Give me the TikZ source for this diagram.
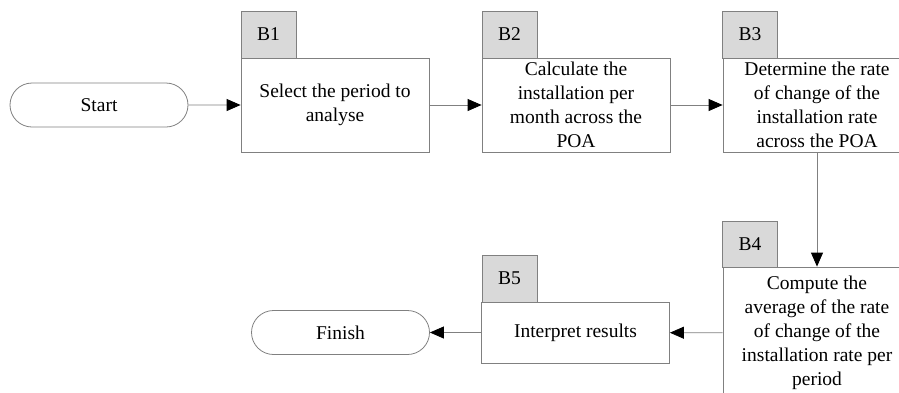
\documentclass[tikz,border=0pt]{standalone}
\usepackage{fontspec}
\setmainfont{Liberation Serif}
\usetikzlibrary{arrows.meta,shapes.misc}
\definecolor{linegray}{RGB}{128,128,128}
\definecolor{tabgray}{RGB}{217,217,217}
\begin{document}
\begin{tikzpicture}[x=1pt,y=-1pt,
  every node/.style={font=\fontsize{19.5}{24}\selectfont, inner sep=0pt, align=center},
  stepbox/.style={draw=linegray, line width=0.8pt, fill=white, minimum width=188pt},
  tabbox/.style={draw=linegray, line width=0.8pt, fill=tabgray, minimum width=55pt, minimum height=47pt},
  pill/.style={draw=linegray, line width=0.8pt, rounded rectangle, minimum width=178pt, minimum height=44pt},
  flow/.style={draw=linegray, line width=0.8pt, -{Triangle[length=14pt,width=12pt,color=black]}}]
\useasboundingbox (0,0) rectangle (899,392);
\clip (0,0) rectangle (899,392);
% start / finish
\node[pill] (start) at (99,105) {Start};
\node[pill] (finish) at (340.5,332.5) {Finish};
% B1
\node[tabbox] (t1) at (268.5,34.5) {B1};
\node[stepbox, minimum height=94pt] (b1) at (335,105) {Select the period to\\analyse};
% B2
\node[tabbox] (t2) at (509.5,34.5) {B2};
\node[stepbox, minimum height=94pt] (b2) at (576,105) {Calculate the\\installation per\\month across the\\POA};
% B3
\node[tabbox] (t3) at (750,34.5) {B3};
\node[stepbox, minimum height=94pt] (b3) at (817,105) {Determine the rate\\of change of the\\installation rate\\across the POA};
% B4
\node[tabbox, minimum height=46pt] (t4) at (750,244) {B4};
\node[stepbox, minimum height=132pt] (b4) at (817,333) {Compute the\\average of the rate\\of change of the\\installation rate per\\period};
% B5
\node[tabbox] (t5) at (509.5,278.5) {B5};
\node[stepbox, minimum height=61pt] (b5) at (575.5,332.5) {Interpret results};
% connectors
\draw[flow] (start) -- (b1);
\draw[flow] (b1) -- (b2);
\draw[flow] (b2) -- (b3);
\draw[flow] (b3) -- (b4);
\draw[flow] (b4) -- (b5);
\draw[flow] (b5) -- (finish);
\end{tikzpicture}
\end{document}
